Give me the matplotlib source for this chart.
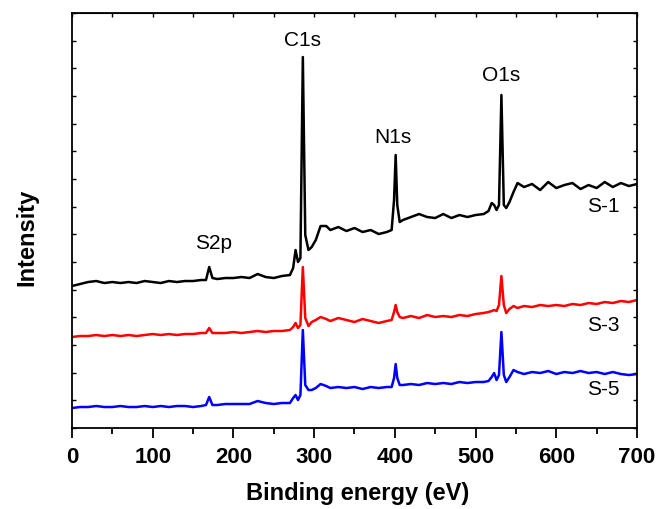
import numpy as np
import matplotlib
matplotlib.use("Agg")
import matplotlib.pyplot as plt
from matplotlib.ticker import MultipleLocator

plt.rcParams['font.family'] = ['Liberation Sans', 'DejaVu Sans']

# binding energy (eV)
energy = [0, 10, 20, 30, 40, 50, 60, 70, 80, 90,
          100, 110, 120, 130, 140, 150, 160, 166, 170, 174,
          180, 190, 200, 210, 220, 230, 240, 250, 260, 270,
          274, 277, 280, 283, 286, 289, 293, 297, 302, 308,
          315, 320, 330, 340, 350, 360, 370, 380, 390, 396,
          399, 401, 403, 406, 410, 420, 430, 440, 450, 460,
          470, 480, 490, 500, 510, 516, 520, 523, 526, 529,
          532, 535, 538, 542, 547, 552, 560, 570, 580, 590,
          600, 610, 620, 630, 640, 650, 660, 670, 680, 690,
          700]

# intensities (a.u., already offset for stacking)
s1 = [144, 146, 148, 149, 147, 148, 147, 148, 147, 149,
      148, 147, 149, 148, 149, 149, 150, 150, 163, 152,
      151, 152, 152, 153, 152, 156, 153, 152, 154, 155,
      162, 180, 168, 172, 373, 195, 180, 183, 190, 204,
      204, 200, 203, 199, 202, 198, 200, 196, 198, 200,
      230, 275, 225, 208, 210, 213, 216, 213, 212, 216,
      212, 215, 213, 215, 216, 219, 227, 225, 220, 225,
      335, 225, 222, 228, 238, 247, 243, 246, 240, 248,
      242, 245, 247, 241, 245, 242, 248, 243, 247, 244,
      246]

s3 = [93, 94, 94, 95, 94, 95, 94, 95, 94, 95,
      96, 95, 96, 95, 96, 96, 97, 97, 102, 97,
      97, 97, 98, 97, 98, 99, 98, 99, 99, 100,
      103, 107, 102, 105, 163, 112, 104, 108, 110, 113,
      111, 109, 112, 110, 108, 111, 109, 107, 109, 110,
      118, 125, 118, 113, 112, 114, 112, 115, 113, 114,
      113, 115, 114, 116, 117, 118, 119, 120, 119, 125,
      154, 125, 117, 121, 124, 122, 124, 123, 125, 124,
      125, 124, 126, 125, 127, 126, 128, 127, 129, 128,
      130]

s5 = [22, 23, 23, 24, 23, 23, 24, 23, 23, 24,
      23, 24, 23, 24, 24, 23, 24, 25, 33, 25,
      25, 26, 26, 26, 26, 29, 27, 26, 27, 27,
      32, 35, 30, 35, 100, 45, 40, 40, 42, 46,
      44, 42, 43, 42, 43, 41, 43, 42, 43, 43,
      52, 66, 52, 45, 45, 46, 45, 47, 46, 47,
      46, 48, 47, 48, 48, 49, 53, 57, 50, 55,
      98, 55, 48, 53, 60, 58, 56, 58, 57, 59,
      56, 58, 57, 59, 57, 58, 56, 58, 56, 55,
      56]

peak_labels = ['C1s', 'N1s', 'O1s', 'S2p']
peak_x = [286, 398, 532, 175]
peak_y = [390, 293, 355, 187]

sample_labels = ['S-1', 'S-3', 'S-5']
sample_y = [224, 105, 41]
colors = ['black', 'red', 'blue']

fig = plt.figure(figsize=(6.58, 5.09), dpi=100)
ax = fig.add_axes([0.1094, 0.1591, 0.8587, 0.8153])

for ys, c in zip([s1, s3, s5], colors):
    ax.plot(energy, ys, color=c, lw=1.8)

for t, x, y in zip(peak_labels, peak_x, peak_y):
    ax.text(x, y, t, fontsize=15, ha='center', va='center')
for t, y in zip(sample_labels, sample_y):
    ax.text(658, y, t, fontsize=15, ha='center', va='center')

ax.set_xlim(0, 700)
ax.set_ylim(2, 417)
ax.xaxis.set_major_locator(MultipleLocator(100))
ax.xaxis.set_minor_locator(MultipleLocator(50))
ax.set_yticks(np.linspace(2, 417, 16))
ax.set_yticklabels([])

ax.tick_params(axis='x', which='major', direction='out', length=7, width=1.3,
               labelsize=16, pad=7, top=False)
ax.tick_params(axis='x', which='minor', direction='out', length=4, width=1.3, top=False)
for lab in ax.get_xticklabels():
    lab.set_fontweight('bold')

# inward ticks on top and both sides, Origin style
top = ax.secondary_xaxis('top')
top.xaxis.set_major_locator(MultipleLocator(50))
top.tick_params(direction='in', length=3, width=1.0, labeltop=False)
top.set_xticklabels([])
ax.tick_params(axis='y', direction='in', length=3, width=1.0, right=True)

for sp in ax.spines.values():
    sp.set_linewidth(1.3)

ax.set_xlabel('Binding energy (eV)', fontsize=17, fontweight='bold')
ax.xaxis.set_label_coords(0.506, -0.13)
ax.set_ylabel('Intensity', fontsize=17, fontweight='bold')
ax.yaxis.set_label_coords(-0.06, 0.46)

fig.savefig('out.png', dpi=100)
